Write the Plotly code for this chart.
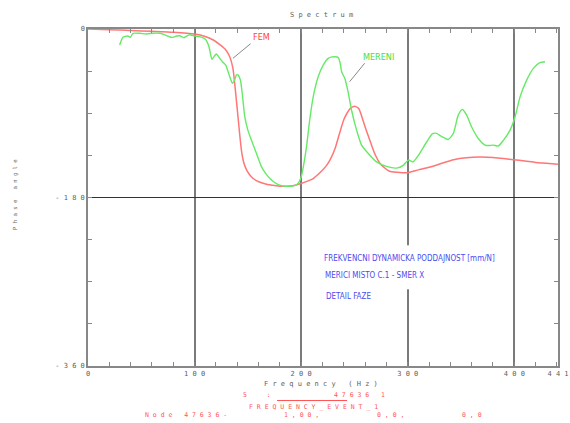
import plotly.graph_objects as go

# ---- data -------------------------------------------------------------
# FEM model phase (deg) vs frequency (Hz)
fem_freq = [0, 20, 40, 60, 80, 100, 110, 118, 124, 129, 133, 136, 138, 141, 144,
            146, 149, 153, 158, 165, 173, 180, 186, 192, 200, 206, 211, 218, 223, 227,
            232, 236, 240, 243, 246, 250, 254, 258, 261, 264.5, 269, 274, 279, 283, 290,
            299, 310, 321, 332, 343, 355, 368, 380, 390, 399, 410, 420, 430, 441]
fem_phase = [0, -0.8, -1.6, -2.5, -3.5, -5.4, -8, -12, -17, -22, -29.7, -42, -62, -97, -130,
             -142, -151, -157.5, -162, -165, -167, -168, -168, -167.5, -165, -162.5, -160, -153, -147, -140,
             -127, -111.6, -97, -90, -85, -82.5, -85, -97.5, -108, -119, -133, -143.6, -149, -152, -153,
             -153.6, -150.5, -147.5, -143.5, -139.6, -137.5, -136.8, -137.2, -138.3, -139.6, -141, -142.5, -143.5, -144.6]

# measured phase (deg) vs frequency (Hz)
mer_freq = [29.7, 32.8, 37.2, 39.8, 42.2, 48.5, 54.8, 61, 67.3, 71,
            74.8, 77, 79.5, 83, 86, 88, 90, 92.5, 95.4, 100.1,
            104.8, 110.2, 113.5, 116.3, 118.5, 120.5, 123.6, 126.1, 129.2, 133,
            135.5, 137.6, 139.3, 140.7, 143, 145, 147, 150, 153.3, 158,
            162.7, 166.5, 170.5, 175, 179.9, 185, 190, 194.5, 197.5, 200,
            202, 205, 208, 211.3, 216, 220.7, 225.4, 229, 231.6, 234.8,
            236.5, 238, 241, 244, 247.3, 252, 256.7, 263, 270.8, 280,
            289.6, 295.8, 300.5, 305, 310, 317.7, 323.3, 327, 330, 334,
            338, 342.7, 347.4, 351.2, 355.3, 360, 366.2, 372.5, 376, 380.3,
            385, 389.7, 396, 400.7, 405.4, 411.6, 417.9, 424, 428.8]
mer_phase = [-17.1, -8.9, -7.5, -8.9, -4.6, -4.6, -5.3, -4.5, -4.6, -5.8,
             -7.5, -8.5, -8.9, -7.5, -7.2, -8.2, -9.3, -7.5, -6.1, -7.5,
             -8.2, -11, -18.9, -32.4, -29, -26.7, -31.3, -34.9, -38.5, -51,
             -58, -54.5, -49, -49, -54.5, -72, -93, -108, -118.6, -132.8,
             -147, -154, -159.5, -164, -166.7, -168, -168, -167, -164.5, -158,
             -147.5, -126, -97.5, -72.5, -51, -38.6, -31.4, -29.8, -29.6, -30.4,
             -36, -45.7, -52.9, -67, -86.8, -108, -124, -133, -142, -146.8,
             -148.6, -145.7, -140, -142, -135, -120.7, -111.8, -111.5, -113.6, -116,
             -118, -111.8, -92, -86, -92, -104.7, -117, -124, -124.5, -124,
             -125, -119, -108, -94, -72.5, -54.6, -42, -36, -35]

x_tick_vals = [0, 100, 200, 300, 400, 441]
y_tick_vals = [0, -180, -360]

NB = "\u00a0"


def spaced(s):
    """Letter-spaced plotter style text."""
    return NB.join(s.replace(" ", NB))


# ---- layout geometry ---------------------------------------------------
W, H = 570, 423
ML, MR, MT, MB = 88, 12, 29, 57
PW, PH = W - ML - MR, H - MT - MB

MONO = "DejaVu Sans Mono, Liberation Mono, monospace"
NARROW = "Liberation Sans Narrow, Arial Narrow, DejaVu Sans Condensed, sans-serif"
GREY = "#606060"
RED_TXT = "#ff5555"


def px(x):
    return (x - ML) / PW


def py(y):
    return (H - MB - y) / PH


fig = go.Figure()
fig.add_trace(go.Scatter(x=fem_freq, y=fem_phase, mode="lines", name="FEM",
                         line=dict(color="#ff7676", width=1.5, shape="spline", smoothing=0.6)))
fig.add_trace(go.Scatter(x=mer_freq, y=mer_phase, mode="lines", name="MERENI",
                         line=dict(color="#66ea66", width=1.4, shape="spline", smoothing=0.6)))

axis_common = dict(showline=True, linecolor="#888888", linewidth=1.5, mirror="ticks",
                   ticks="inside", ticklen=4, tickcolor="#888888", zeroline=False,
                   tickfont=dict(family=MONO, size=7, color=GREY))

fig.update_xaxes(range=[0, 441], tickmode="array", tickvals=x_tick_vals,
                 ticktext=[spaced(str(v)) for v in x_tick_vals],
                 showgrid=True, gridcolor="#7a7a7a", gridwidth=1.5,
                 minor=dict(tick0=0, dtick=20, ticks="inside", ticklen=4,
                            tickcolor="#888888", showgrid=False),
                 **axis_common)
fig.update_yaxes(range=[-360, 0], tickmode="array", tickvals=y_tick_vals,
                 ticktext=[spaced(str(v)) for v in y_tick_vals],
                 showgrid=True, gridcolor="#333333", gridwidth=1,
                 minor=dict(tick0=0, dtick=45, ticks="inside", ticklen=4,
                            tickcolor="#888888", showgrid=False),
                 **axis_common)

shapes = [
    # white backing behind the description block
    dict(type="rect", xref="x", yref="y", x0=217, x1=386, y0=-231, y1=-278,
         fillcolor="white", line=dict(width=0), layer="between"),
    # leader lines for the curve labels
    dict(type="line", xref="x", yref="y", x0=154.8, y0=-13.6, x1=136, y1=-31.3,
         line=dict(color="#888888", width=1)),
    dict(type="line", xref="x", yref="y", x0=259.6, y0=-36.6, x1=245.5, y1=-56.3,
         line=dict(color="#888888", width=1)),
    # separator in the footer
    dict(type="line", xref="paper", yref="paper", x0=px(277), x1=px(347),
         y0=py(400.5), y1=py(400.5), line=dict(color=RED_TXT, width=1)),
]

ann = []


def text(s, x, y, xanchor="center", color=GREY, size=7, family=MONO, **kw):
    ann.append(dict(text=s, x=px(x), y=py(y), xref="paper", yref="paper",
                    xanchor=xanchor, yanchor="middle", showarrow=False,
                    font=dict(family=family, size=size, color=color), **kw))


# titles
text(spaced("Spectrum"), 321, 15)
text(spaced("Frequency (Hz)"), 321, 384)
text(spaced("Phase angle"), 15, 195, size=5.6, textangle=-90)

# curve labels
ann.append(dict(text="FEM", x=162.5, y=-8.2, xref="x", yref="y", showarrow=False,
                font=dict(family=NARROW, size=9, color="#ff4040"), bgcolor="white",
                borderpad=2))
ann.append(dict(text="MERENI", x=272.7, y=-29.6, xref="x", yref="y", showarrow=False,
                font=dict(family=NARROW, size=9, color="#44e044")))

# description block
BLUE = "#4b4bef"
text("FREKVENCNI DYNAMICKA PODDAJNOST [mm/N]", 321.5, 258, xanchor="left",
     color=BLUE, size=8, family=NARROW)
text("MERICI MISTO C.1 - SMER X", 322.5, 275, xanchor="left",
     color=BLUE, size=8, family=NARROW)
text("DETAIL FAZE", 324, 296.5, xanchor="left", color=BLUE, size=8, family=NARROW)

# footer
FS = 6.5
text(spaced("5  :"), 241, 395, xanchor="left", color=RED_TXT, size=FS)
text(spaced("47636 1"), 332, 395, xanchor="left", color=RED_TXT, size=FS)
text(spaced("FREQUENCY_EVENT_1"), 247, 407, xanchor="left", color=RED_TXT, size=FS)
text(spaced("Node 47636-"), 142.5, 415, xanchor="left", color=RED_TXT, size=FS)
text(spaced("1,00,"), 281.5, 415, xanchor="left", color=RED_TXT, size=FS)
text(spaced("0,0,"), 375, 415, xanchor="left", color=RED_TXT, size=FS)
text(spaced("0,0"), 460, 415, xanchor="left", color=RED_TXT, size=FS)

fig.update_layout(width=W, height=H, margin=dict(l=ML, r=MR, t=MT, b=MB, autoexpand=False),
                  plot_bgcolor="white", paper_bgcolor="white", showlegend=False,
                  shapes=shapes, annotations=ann)

fig.write_html("out.html")
